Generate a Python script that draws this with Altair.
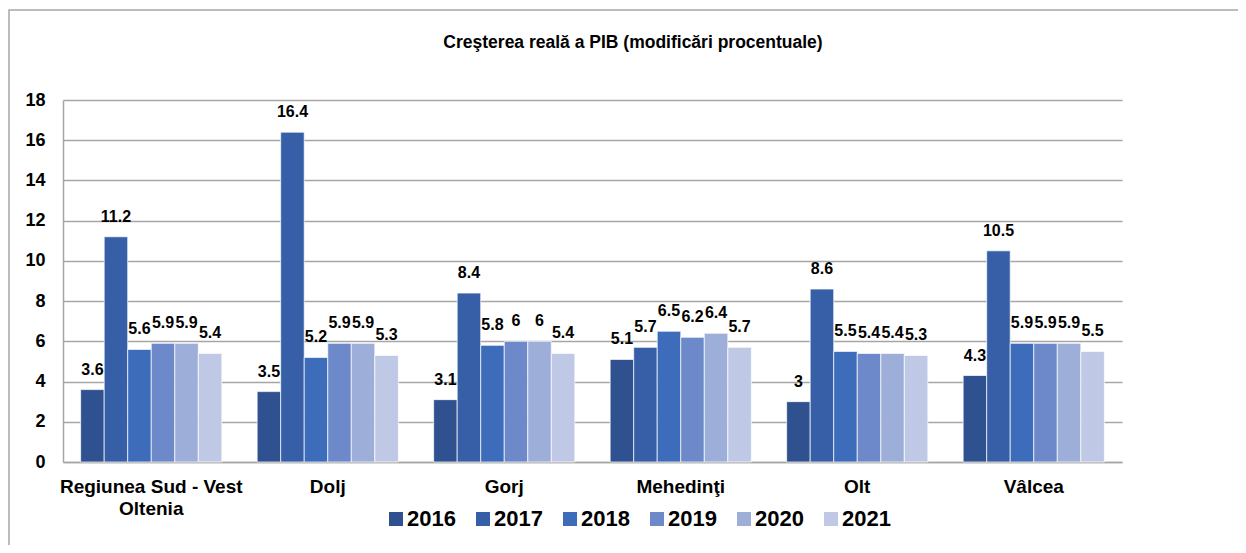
import altair as alt
import pandas as pd

regions = ["Regiunea Sud - Vest Oltenia", "Dolj", "Gorj", "Mehedinţi", "Olt", "Vâlcea"]
years = ["2016", "2017", "2018", "2019", "2020", "2021"]
v_sudvest = [3.6, 11.2, 5.6, 5.9, 5.9, 5.4]
v_dolj = [3.5, 16.4, 5.2, 5.9, 5.9, 5.3]
v_gorj = [3.1, 8.4, 5.8, 6, 6, 5.4]
v_mehedinti = [5.1, 5.7, 6.5, 6.2, 6.4, 5.7]
v_olt = [3, 8.6, 5.5, 5.4, 5.4, 5.3]
v_valcea = [4.3, 10.5, 5.9, 5.9, 5.9, 5.5]
colors = ["#2F5190", "#375FA7", "#3D6CBB", "#6D89C9", "#9DAED9", "#BFC9E5"]
y_ticks = [0, 2, 4, 6, 8, 10, 12, 14, 16, 18]
title_text = "Creşterea reală a PIB (modificări procentuale)"

series = [v_sudvest, v_dolj, v_gorj, v_mehedinti, v_olt, v_valcea]
rows = []
for r, vals in zip(regions, series):
    for yv, v in zip(years, vals):
        rows.append({"region": r, "year": yv, "value": v})
df = pd.DataFrame(rows)

FONT = "Liberation Sans"
GRID = "#A6A6A6"

x_enc = alt.X(
    "region:N",
    sort=regions,
    scale=alt.Scale(paddingInner=0.2, paddingOuter=0.1),
    axis=alt.Axis(
        title=None,
        labelAngle=0,
        labelFont=FONT,
        labelFontSize=19,
        labelFontWeight="bold",
        labelColor="black",
        labelPadding=15,
        labelLineHeight=22,
        labelLimit=400,
        labelExpr="datum.value == 'Regiunea Sud - Vest Oltenia' ? ['Regiunea Sud - Vest', 'Oltenia'] : datum.label",
        ticks=False,
        domainColor=GRID,
        domainWidth=1.5,
    ),
)
xoff_enc = alt.XOffset("year:N", sort=years, scale=alt.Scale(paddingInner=0, paddingOuter=0))
y_enc = alt.Y(
    "value:Q",
    scale=alt.Scale(domain=[0, 18], nice=False),
    axis=alt.Axis(
        title=None,
        values=y_ticks,
        labelFont=FONT,
        labelFontSize=18,
        labelFontWeight="bold",
        labelColor="black",
        labelPadding=18,
        ticks=False,
        domainColor=GRID,
        domainWidth=1.5,
        gridColor=GRID,
        gridWidth=1.5,
    ),
)

base = alt.Chart(df)

bars = base.mark_bar(stroke="white", strokeWidth=0.7).encode(
    x=x_enc,
    xOffset=xoff_enc,
    y=y_enc,
    color=alt.Color(
        "year:N",
        sort=years,
        scale=alt.Scale(domain=years, range=colors),
        legend=alt.Legend(
            title=None,
            orient="none",
            direction="horizontal",
            legendX=322,
            legendY=408,
            symbolType="square",
            symbolSize=196,
            symbolStrokeWidth=0,
            labelFont=FONT,
            labelFontSize=22,
            labelFontWeight="bold",
            labelColor="black",
            labelOffset=0,
            columnPadding=16,
            padding=0,
        ),
    ),
)

labels = base.mark_text(
    dy=-15, baseline="alphabetic", font=FONT, fontSize=16, fontWeight="bold", color="black"
).encode(
    x=x_enc,
    xOffset=xoff_enc,
    y=y_enc,
    text=alt.Text("value:Q", format=".1~f"),
)

frame = alt.Chart(alt.Data(values=[{"a": 1}])).mark_rect(
    fill="white", fillOpacity=0, stroke=GRID, strokeWidth=1.5
).encode(
    x=alt.value(-54), x2=alt.value(1400), y=alt.value(-90), y2=alt.value(700)
)

title = alt.Chart(alt.Data(values=[{"t": title_text}])).mark_text(
    font=FONT, fontSize=17.5, fontWeight="bold", color="black", align="center", baseline="middle"
).encode(
    text="t:N", x=alt.value(570), y=alt.value(-57)
)

chart = alt.layer(frame, title, bars, labels).properties(
    width=1059,
    height=362,
    padding={"left": 55, "top": 92, "right": 116, "bottom": 83},
    autosize=alt.AutoSizeParams(type="none"),
).configure_view(stroke=None)

chart.save("out.html", embed_options={"renderer": "svg", "actions": False})
